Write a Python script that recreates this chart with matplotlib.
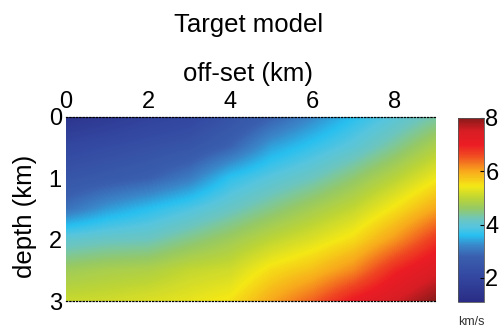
import numpy as np
import matplotlib
matplotlib.use("Agg")
import matplotlib.pyplot as plt
from matplotlib.colors import LinearSegmentedColormap, Normalize

plt.rcParams["font.family"] = ["Liberation Sans", "DejaVu Sans"]

# velocity model (km/s), rows = depth, cols = offset
offset = [0, 1, 2, 3, 4, 5, 6, 7, 8, 9]
depth = [0, 0.5, 1.0, 1.5, 2.0, 2.5, 3.0]
vel = [
    [1.4, 1.6, 1.85, 2.0, 2.4, 2.8, 3.2, 3.6, 3.95, 4.3],
    [2.05, 2.2, 2.35, 2.5, 2.85, 3.4, 3.7, 4.0, 4.4, 4.85],
    [2.5, 2.65, 2.8, 3.1, 3.65, 3.95, 4.2, 4.55, 4.95, 5.4],
    [3.0, 3.35, 3.6, 3.85, 4.15, 4.45, 4.75, 5.05, 5.5, 6.0],
    [4.05, 4.15, 4.2, 4.45, 4.7, 5.0, 5.25, 5.55, 6.1, 6.75],
    [4.7, 4.8, 4.85, 5.05, 5.15, 5.55, 5.8, 6.2, 6.9, 7.4],
    [5.1, 5.15, 5.25, 5.35, 5.5, 6.0, 6.45, 7.05, 7.5, 8.0],
]
xticks = [0, 2, 4, 6, 8]
yticks = [0, 1, 2, 3]
cticks = [2, 4, 6, 8]

vmin, vmax = 1.1, 8.0
# colour stops of the colour bar (value, colour)
stops = [(1.1, "#2a2c84"), (2.0, "#3346a0"), (2.8, "#3a5fae"), (3.2, "#3a85c8"),
         (3.6, "#27c0f0"), (3.9, "#55c5df"), (4.2, "#6cc6c0"), (4.6, "#95c966"),
         (5.0, "#bdd535"), (5.45, "#f4e816"), (6.0, "#f8a91c"), (6.6, "#f04a22"),
         (7.0, "#ec1c24"), (7.5, "#d81e24"), (8.0, "#8a1a1a")]
cmap = LinearSegmentedColormap.from_list(
    "vel", [((v - vmin) / (vmax - vmin), c) for v, c in stops])

fig = plt.figure(figsize=(5.02, 3.31), dpi=100)
ax = fig.add_axes([0.1315, 0.0906, 0.737, 0.556])
cax = fig.add_axes([0.912, 0.0876, 0.052, 0.556])

# half a grid step around the outer nodes so pixel centres sit on the nodes
dx = (offset[1] - offset[0]) / 2
dz = (depth[1] - depth[0]) / 2
img = ax.imshow(np.array(vel), cmap=cmap, norm=Normalize(vmin, vmax),
                interpolation="bilinear", aspect="auto",
                extent=(offset[0] - dx, offset[-1] + dx, depth[-1] + dz, depth[0] - dz))
ax.set_xlim(0, 9)
ax.set_ylim(3, 0)
ax.xaxis.tick_top()
ax.set_xticks(xticks)
ax.set_yticks(yticks)
ax.tick_params(length=0, labelsize=17, pad=3)
for s in ["left", "right"]:
    ax.spines[s].set_visible(False)
for s in ["top", "bottom"]:
    ax.spines[s].set_linestyle(":")
    ax.spines[s].set_linewidth(0.9)

cb = fig.colorbar(img, cax=cax)
cb.set_ticks(cticks)
cb.ax.tick_params(labelsize=17, length=3, direction="in", pad=1)
cb.outline.set_linewidth(0.6)
cb.outline.set_edgecolor("#555555")

fig.text(0.496, 0.924, "Target model", ha="center", va="center", fontsize=18.5)
fig.text(0.494, 0.776, "off-set (km)", ha="center", va="center", fontsize=18.5)
fig.text(0.05, 0.347, "depth (km)", ha="center", va="center",
         rotation=90, fontsize=18.5)
fig.text(0.938, 0.027, "km/s", ha="center", va="center", fontsize=9,
         color="#333333")

fig.savefig("out.png", dpi=100)
